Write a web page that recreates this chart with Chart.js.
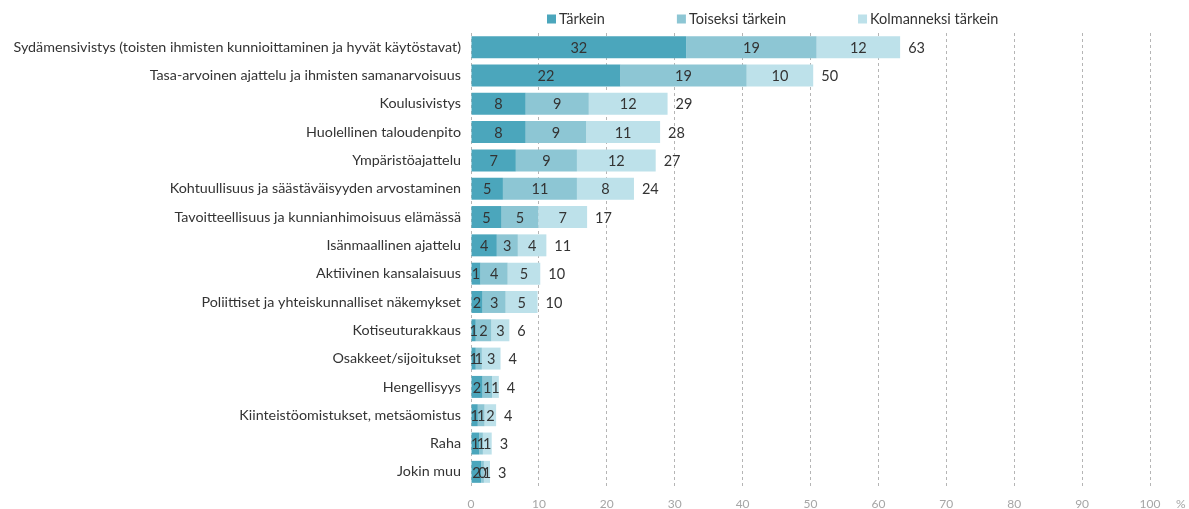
<!DOCTYPE html>
<html>
<head>
<meta charset="utf-8">
<script src="https://cdn.jsdelivr.net/npm/chart.js@4/dist/chart.umd.min.js"></script>
<style>
  html, body { margin: 0; padding: 0; background: #fff; }
  #wrap { width: 1189px; height: 509px; }
</style>
</head>
<body>
<div id="wrap"><canvas id="mycanvas" width="1189" height="509"></canvas></div>
<script>
var categories = [
	'Sydämensivistys (toisten ihmisten kunnioittaminen ja hyvät käytöstavat)',
	'Tasa-arvoinen ajattelu ja ihmisten samanarvoisuus',
	'Koulusivistys',
	'Huolellinen taloudenpito',
	'Ympäristöajattelu',
	'Kohtuullisuus ja säästäväisyyden arvostaminen',
	'Tavoitteellisuus ja kunnianhimoisuus elämässä',
	'Isänmaallinen ajattelu',
	'Aktiivinen kansalaisuus',
	'Poliittiset ja yhteiskunnalliset näkemykset',
	'Kotiseuturakkaus',
	'Osakkeet/sijoitukset',
	'Hengellisyys',
	'Kiinteistöomistukset, metsäomistus',
	'Raha',
	'Jokin muu'
];
var seriesNames = ['Tärkein', 'Toiseksi tärkein', 'Kolmanneksi tärkein'];
var tarkein     = [31.7, 22.0, 8.05, 8.05, 6.6, 4.7, 4.5, 3.8, 1.4, 1.7, 0.7, 0.7, 1.7, 1.0, 1.2, 1.5];
var toiseksi    = [19.2, 18.6, 9.3, 8.9, 9.0, 10.9, 5.4, 3.1, 4.0, 3.4, 2.3, 0.9, 1.4, 1.0, 0.55, 0.4];
var kolmanneksi = [12.3, 9.8, 11.6, 10.9, 11.6, 8.4, 7.2, 4.2, 4.8, 4.7, 2.65, 2.75, 1.0, 1.7, 1.3, 0.9];
var xTicks = [0, 10, 20, 30, 40, 50, 60, 70, 80, 90, 100];

var colors = ['#4ba6bc', '#8dc6d4', '#bde1ea'];
var fontFamily = 'Lato, "Liberation Sans", sans-serif';

// labels inside the segments, totals after the bar, legend on top, % after the axis
var labelPlugin = {
	id: 'labels',
	afterDatasetsDraw: function(chart) {
		var ctx = chart.ctx;
		ctx.save();
		ctx.font = '14.5px ' + fontFamily;
		ctx.fillStyle = '#333';
		ctx.textBaseline = 'middle';
		ctx.textAlign = 'center';
		chart.data.datasets.forEach(function(ds, di) {
			var meta = chart.getDatasetMeta(di);
			meta.data.forEach(function(bar, i) {
				ctx.fillText(Math.round(ds.data[i]), (bar.x + bar.base) / 2, bar.y + 1);
			});
		});
		ctx.textAlign = 'left';
		var last = chart.getDatasetMeta(chart.data.datasets.length - 1);
		last.data.forEach(function(bar, i) {
			var total = tarkein[i] + toiseksi[i] + kolmanneksi[i];
			ctx.fillText(Math.round(total), bar.x + 8, bar.y + 1);
		});

		// legend
		var x = chart.chartArea.left + 76;
		var y = 19;
		ctx.font = '14.5px ' + fontFamily;
		chart.data.datasets.forEach(function(ds) {
			ctx.fillStyle = ds.backgroundColor;
			ctx.fillRect(x, y - 4.5, 9, 9);
			ctx.fillStyle = '#333';
			ctx.fillText(ds.label, x + 12, y);
			x += 12 + ctx.measureText(ds.label).width + 72;
		});

		// percent sign
		var xs = chart.scales.x;
		ctx.font = '12px ' + fontFamily;
		ctx.fillStyle = '#a6a6a6';
		ctx.fillText('%', xs.getPixelForValue(100) + 26, chart.chartArea.bottom + 18);
		ctx.restore();
	}
};

var ctx = document.getElementById('mycanvas');

var barGraph = new Chart(ctx, {
	type: 'bar',
	data: {
		labels: categories,
		datasets: [
			{ label: seriesNames[0], data: tarkein, backgroundColor: colors[0] },
			{ label: seriesNames[1], data: toiseksi, backgroundColor: colors[1] },
			{ label: seriesNames[2], data: kolmanneksi, backgroundColor: colors[2] }
		]
	},
	options: {
		indexAxis: 'y',
		responsive: false,
		animation: false,
		layout: { padding: { top: 33, right: 39, bottom: 0, left: 0 } },
		datasets: { bar: { categoryPercentage: 0.8, barPercentage: 0.97, borderWidth: 0 } },
		plugins: {
			legend: { display: false },
			tooltip: { enabled: false }
		},
		scales: {
			x: {
				stacked: true,
				min: 0,
				max: 100,
				afterBuildTicks: function(scale) {
					scale.ticks = xTicks.map(function(v) { return { value: v }; });
				},
				afterFit: function(scale) { scale.height = 23; },
				grid: { color: '#b5b5b5', lineWidth: 1, drawTicks: false },
				border: { display: false, dash: [3, 3] },
				ticks: { color: '#a6a6a6', font: { family: fontFamily, size: 12 }, padding: 11, maxRotation: 0 }
			},
			y: {
				stacked: true,
				afterFit: function(scale) { scale.width = 471; },
				grid: { display: false, drawTicks: false },
				border: { display: false },
				ticks: { color: '#333', font: { family: fontFamily, size: 14.3 }, padding: 10, autoSkip: false }
			}
		}
	},
	plugins: [labelPlugin]
});
</script>
</body>
</html>
